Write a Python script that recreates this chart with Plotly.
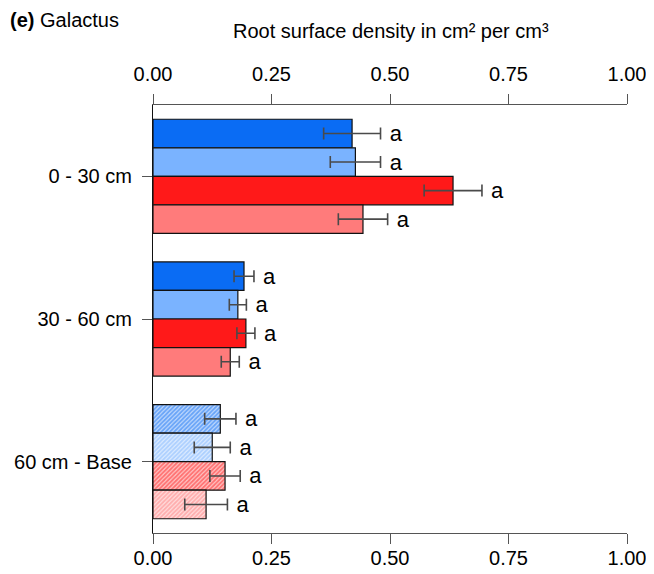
import plotly.graph_objects as go

depths = ["0 - 30 cm", "30 - 60 cm", "60 cm - Base"]
series_names = ["S1", "S2", "S3", "S4"]
colors = ["#0A6CF4", "#7AB3FF", "#FF1919", "#FF7B7B"]
means = [
    [0.420, 0.192, 0.142],
    [0.427, 0.179, 0.125],
    [0.633, 0.196, 0.152],
    [0.443, 0.163, 0.112],
]
errors = [
    [0.060, 0.021, 0.033],
    [0.053, 0.018, 0.038],
    [0.061, 0.019, 0.032],
    [0.052, 0.019, 0.045],
]
letters = [
    ["a", "a", "a"],
    ["a", "a", "a"],
    ["a", "a", "a"],
    ["a", "a", "a"],
]
hatch = ["", "", "/"]
xticks = [0, 0.25, 0.5, 0.75, 1.0]
xticklabels = ["0.00", "0.25", "0.50", "0.75", "1.00"]

FONT = "Liberation Sans, Arial, sans-serif"


def tint(hex_color, f):
    h = hex_color.lstrip("#")
    r, g, b = (int(h[k:k + 2], 16) for k in (0, 2, 4))
    r, g, b = (round(c + (255 - c) * f) for c in (r, g, b))
    return f"rgb({r},{g},{b})"


fig = go.Figure()
for i in range(4):
    fig.add_trace(go.Bar(
        y=depths, x=means[i], orientation="h", name=series_names[i],
        offsetgroup=str(i),
        marker=dict(color=colors[i], line=dict(color="#111111", width=1.2),
                    pattern=dict(shape=hatch, fgcolor=colors[i],
                                 bgcolor=tint(colors[i], 0.75),
                                 size=3, solidity=0.6, fillmode="overlay")),
        error_x=dict(type="data", array=errors[i], color="#4a4a4a",
                     thickness=1.6, width=6),
        showlegend=False, hoverinfo="x",
    ))
for i in range(4):
    ends = [m + e for m, e in zip(means[i], errors[i])]
    fig.add_trace(go.Bar(
        y=depths, x=ends, orientation="h", offsetgroup=str(i),
        marker=dict(color="rgba(0,0,0,0)", line=dict(width=0)),
        text=["\u00a0" + t for t in letters[i]], textposition="outside",
        textfont=dict(family=FONT, size=22, color="black"),
        cliponaxis=False, showlegend=False, hoverinfo="skip",
    ))
# invisible trace for top axis
fig.add_trace(go.Scatter(x=[0, 1], y=[depths[0], depths[0]], xaxis="x2",
                         mode="markers", marker=dict(opacity=0),
                         showlegend=False, hoverinfo="skip"))

axis_common = dict(range=[0, 1], tickvals=xticks, ticktext=xticklabels,
                   showline=True, linecolor="#555555", linewidth=1.2,
                   ticks="outside", ticklen=10, tickcolor="#555555", tickwidth=1.2,
                   showgrid=False, zeroline=False, automargin=False,
                   tickfont=dict(family=FONT, size=20, color="black"))

# the page body adds an 8px offset, so the figure is 8px smaller on each side
fig.update_layout(
    width=646, height=566,
    margin=dict(l=145, r=27, t=97, b=41, autoexpand=False),
    paper_bgcolor="white", plot_bgcolor="white",
    barmode="group", bargap=0.2, bargroupgap=0,
    xaxis=dict(**axis_common, ticklabelstandoff=-3),
    xaxis2=dict(**axis_common, overlaying="x", side="top", ticklabelstandoff=5),
    yaxis=dict(type="category", range=[2.5, -0.5], showline=True,
               linecolor="#111111", linewidth=1.2, ticks="outside", ticklen=10,
               tickcolor="#555555", tickwidth=1.2, showgrid=False, zeroline=False,
               automargin=False, ticklabelstandoff=6,
               tickfont=dict(family=FONT, size=20, color="black")),
    font=dict(family=FONT),
)
fig.add_annotation(text="<b>(e)</b> Galactus", xref="paper", yref="paper",
                   x=(8 - 153) / 474, y=1 + (105 - 20) / 428,
                   xanchor="left", yanchor="middle", showarrow=False,
                   font=dict(family=FONT, size=20, color="black"))
fig.add_annotation(text="Root surface density in cm² per cm³", xref="paper", yref="paper",
                   x=(391 - 153) / 474, y=1 + (105 - 31) / 428,
                   xanchor="center", yanchor="middle", showarrow=False,
                   font=dict(family=FONT, size=20, color="black"))

fig.write_html("out.html")
